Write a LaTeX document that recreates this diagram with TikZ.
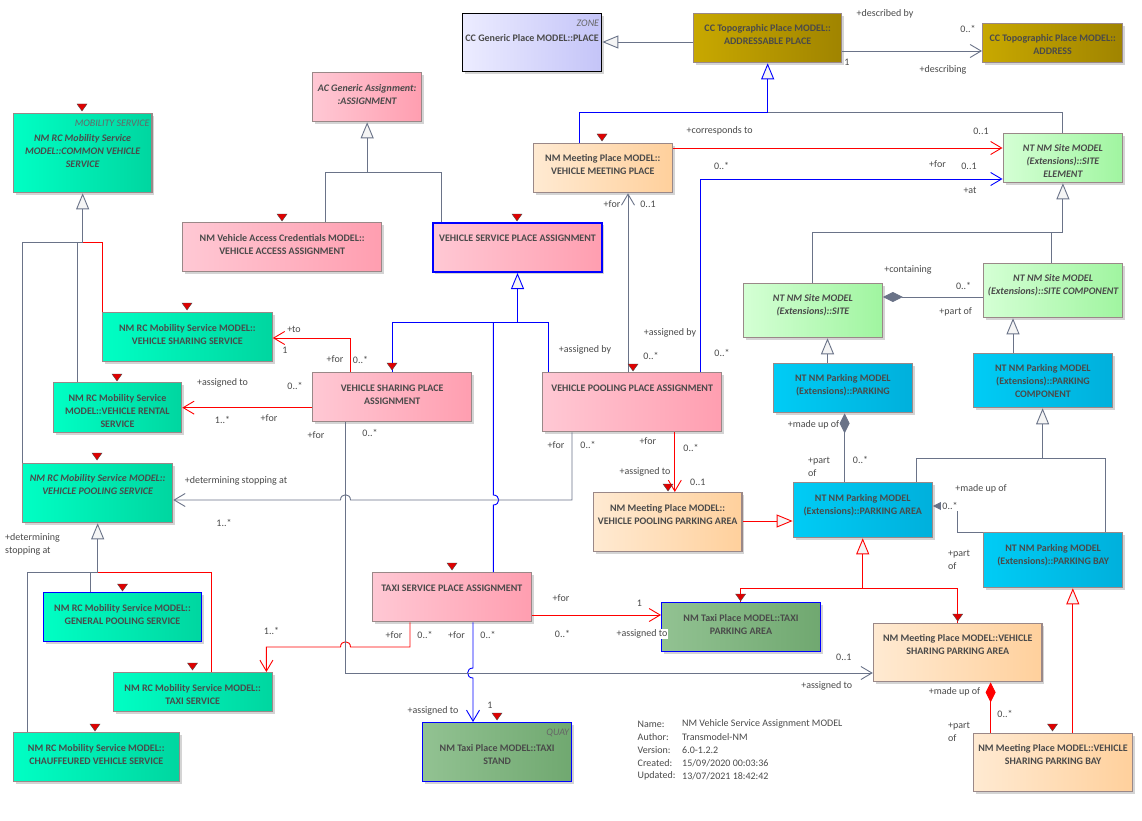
\documentclass[tikz,border=0pt]{standalone}
\usepackage{fontspec}
\setmainfont{Carlito}
\usetikzlibrary{arrows.meta,calc}
\definecolor{tealL}{HTML}{00FFC4}
\definecolor{tealR}{HTML}{00D6A0}
\definecolor{pinkL}{HTML}{FFC8D4}
\definecolor{pinkR}{HTML}{FF9EB0}
\definecolor{peachL}{HTML}{FFEAD2}
\definecolor{peachR}{HTML}{FFD09C}
\definecolor{lgreenL}{HTML}{D4FFD4}
\definecolor{lgreenR}{HTML}{A0F5A0}
\definecolor{cyanL}{HTML}{00CCF5}
\definecolor{cyanR}{HTML}{00B0DC}
\definecolor{oliveL}{HTML}{C8A800}
\definecolor{oliveR}{HTML}{A08400}
\definecolor{lavL}{HTML}{ECECFF}
\definecolor{lavR}{HTML}{C4C4F8}
\definecolor{tgreenL}{HTML}{92C292}
\definecolor{tgreenR}{HTML}{70A870}
\definecolor{bordc}{HTML}{9A8888}
\definecolor{linec}{HTML}{6A7388}
\definecolor{txtc}{HTML}{4A4A4A}
\definecolor{shadc}{HTML}{D4D4D4}
\definecolor{stereoc}{HTML}{E00000}
\tikzset{
  box/.style={draw=bordc, line width=1.3pt, inner sep=0pt, anchor=north west},
  teal/.style={box, left color=tealL, right color=tealR},
  pink/.style={box, left color=pinkL, right color=pinkR},
  peach/.style={box, left color=peachL, right color=peachR},
  lgreen/.style={box, left color=lgreenL, right color=lgreenR},
  cyanbox/.style={box, left color=cyanL, right color=cyanR},
  olive/.style={box, left color=oliveL, right color=oliveR},
  lav/.style={box, left color=lavL, right color=lavR, draw=black},
  tgreen/.style={box, left color=tgreenL, right color=tgreenR, draw=blue},
  btext/.style={text=txtc, align=center, inner sep=0pt, anchor=north},
  sttext/.style={font=\fontsize{10}{12}\selectfont\itshape, text=black!60, inner sep=0pt, anchor=north east},
  lbl/.style={font=\fontsize{10}{13}\selectfont, text=txtc, inner sep=0pt},
  lbll/.style={lbl, align=left, anchor=west},
  gline/.style={draw=linec, line width=0.9pt},
  rline/.style={draw=red, line width=0.9pt},
  bline/.style={draw=blue, line width=0.9pt},
  gen/.style={-{Triangle[length=16pt,width=13pt,fill=gray!8]}},
  assoc/.style={-{Straight Barb[length=11pt,width=13pt]}},
  comp/.style={{Diamond[length=20pt,width=10pt]}-},
}
\newcommand{\umlbox}[9]{%
  \fill[shadc] (#3+3,#4+3) rectangle (#5+3,#6+3);
  \node[#2, minimum width=#5pt-#3pt, minimum height=#6pt-#4pt] (#1) at (#3,#4) {};
  \node[btext, font=\fontsize{10}{13}\selectfont\bfseries#9] (#1-t) at ($(#1.north)+(0,#7-5.3)$) {\rule{0pt}{8.5pt}#8};
}
\newcommand{\stereo}[2]{\filldraw[fill=stereoc, draw=black!70, line width=0.4pt] (#1-5,#2-3) -- (#1+5,#2-3) -- (#1,#2+4) -- cycle;}
\begin{document}
\begin{tikzpicture}[x=1pt,y=-1pt]
\useasboundingbox (0,0) rectangle (1142,821);
\fill[white] (0,0) rectangle (1142,821);
% ---------- boxes ----------
\umlbox{place}{lav}{462}{13}{601}{71}{25}{CC Generic Place MODEL::PLACE}{}
\node[sttext] (place-s) at ($(place.north east)+(-3,6.5)$) {ZONE};
\umlbox{ap}{olive}{693}{13}{841}{62}{15}{CC Topographic Place MODEL::\\ADDRESSABLE PLACE}{}
\umlbox{addr}{olive}{982}{23}{1122}{62}{15}{CC Topographic Place MODEL::\\ADDRESS}{}
\umlbox{asg}{pink}{312}{72}{421}{121}{16}{AC Generic Assignment:\\:ASSIGNMENT}{\itshape}
\umlbox{common}{teal}{12.6}{113}{151.4}{192}{25}{NM RC Mobility Service\\MODEL::COMMON VEHICLE\\SERVICE}{\itshape}
\node[sttext] (common-s) at ($(common.north east)+(-3,6.5)$) {MOBILITY SERVICE};
\umlbox{vaa}{pink}{182}{222}{381}{271}{16}{NM Vehicle Access Credentials MODEL::\\VEHICLE ACCESS ASSIGNMENT}{}
\umlbox{vspa}{pink,draw=blue,line width=2pt}{432}{222}{601}{271}{16}{VEHICLE SERVICE PLACE ASSIGNMENT}{}
\umlbox{vmp}{peach}{532.7}{143}{671.6}{192}{15}{NM Meeting Place MODEL::\\VEHICLE MEETING PLACE}{}
\umlbox{se}{lgreen}{1002.5}{133}{1122}{182}{15}{NT NM Site MODEL\\(Extensions)::SITE\\ELEMENT}{\itshape}
\umlbox{sc}{lgreen}{983}{263}{1122}{317}{15}{NT NM Site MODEL\\(Extensions)::SITE COMPONENT}{\itshape}
\umlbox{site}{lgreen}{743}{283}{881.5}{337}{15}{NT NM Site MODEL\\(Extensions)::SITE}{\itshape}
\umlbox{parking}{cyanbox}{772.8}{363}{911.7}{412}{15}{NT NM Parking MODEL\\(Extensions)::PARKING}{}
\umlbox{pc}{cyanbox}{972.8}{353}{1111.7}{407}{15}{NT NM Parking MODEL\\(Extensions)::PARKING\\COMPONENT}{}
\umlbox{pa}{cyanbox}{792.6}{482}{931.5}{537}{16}{NT NM Parking MODEL\\(Extensions)::PARKING AREA}{}
\umlbox{pb}{cyanbox}{983}{532}{1122}{587}{16}{NT NM Parking MODEL\\(Extensions)::PARKING BAY}{}
\umlbox{vss}{teal}{102}{312}{271.5}{361}{16}{NM RC Mobility Service MODEL::\\VEHICLE SHARING SERVICE}{}
\umlbox{vrs}{teal}{52.6}{382}{181}{432}{16}{NM RC Mobility Service\\MODEL::VEHICLE RENTAL\\SERVICE}{}
\umlbox{vsha}{pink}{312}{372}{471}{421}{16}{VEHICLE SHARING PLACE\\ASSIGNMENT}{}
\umlbox{vppa}{pink}{542}{372}{721}{431}{16}{VEHICLE POOLING PLACE ASSIGNMENT}{}
\umlbox{vps}{teal}{22}{463}{172}{522}{15}{NM RC Mobility Service MODEL::\\VEHICLE POOLING SERVICE}{\itshape}
\umlbox{vpa}{peach}{592.6}{492}{741.4}{551}{16}{NM Meeting Place MODEL::\\VEHICLE POOLING PARKING AREA}{}
\umlbox{tspa}{pink}{371.5}{572}{530.8}{621}{16}{TAXI SERVICE PLACE ASSIGNMENT}{}
\umlbox{tpa}{tgreen}{661}{602}{819.6}{651}{16}{NM Taxi Place MODEL::TAXI\\PARKING AREA}{}
\umlbox{vsparea}{peach}{872.8}{623}{1041.4}{681}{15}{NM Meeting Place MODEL::VEHICLE\\SHARING PARKING AREA}{}
\umlbox{vspb}{peach}{972.8}{733}{1132}{791}{15}{NM Meeting Place MODEL::VEHICLE\\SHARING PARKING BAY}{}
\umlbox{gps}{teal,draw=blue}{42.7}{592}{201}{641}{16}{NM RC Mobility Service MODEL::\\GENERAL POOLING SERVICE}{}
\umlbox{ts}{teal}{112.6}{672}{271.5}{711}{16}{NM RC Mobility Service MODEL::\\TAXI SERVICE}{}
\umlbox{chauf}{teal}{12.6}{732}{178.6}{781}{16}{NM RC Mobility Service MODEL::\\CHAUFFEURED VEHICLE SERVICE}{}
\umlbox{stand}{tgreen}{422}{722}{571}{781}{26}{NM Taxi Place MODEL::TAXI\\STAND}{}
\node[sttext] (stand-s) at ($(stand.north east)+(-3,6.5)$) {QUAY};
% ---------- connectors ----------
\draw[gline, gen] (ap.west |- 0,42) -- (place.east |- 0,42);
\draw[gline, assoc] (ap.east |- 0,51) -- (addr.west |- 0,51);
\draw[gline] (se.north) |- (ap.south |- 0,112);
\draw[bline, gen] (579,0 |- vmp.north) |- (ap.south |- 0,112) -- (ap.south);
\draw[rline, assoc] (vmp.east |- 0,148) -- (se.west |- 0,148);
\draw[bline, assoc] (700.6,0 |- vppa.north) |- (se.west |- 0,179);
\draw[gline, assoc] (628,0 |- vppa.north) -- (628,0 |- vmp.south);
\draw[gline] (325,0 |- vaa.north) |- (asg.south |- 0,172);
\draw[gline, gen] (441,0 |- vspa.north) |- (asg.south |- 0,172) -- (asg.south);
\draw[gline] (77.5,0 |- vrs.north) -- (77.5,242);
\draw[rline] (102,0 |- vss.north) |- (common.south |- 0,242);
\draw[gline, gen] (22,0 |- vps.north) |- (common.south |- 0,242) -- (common.south);
\draw[gline] (90.5,0 |- gps.north) -- (90.5,572);
\draw[rline] (211.5,0 |- ts.north) |- (vps.south |- 0,572);
\draw[gline, gen] (27,0 |- chauf.north) |- (vps.south |- 0,572) -- (vps.south);
\draw[bline] (548.6,0 |- vppa.north) |- (vspa.south |- 0,322);
\draw[bline] (493.3,0 |- tspa.north) -- (493.3,505) .. controls (500.5,505) and (500.5,495) .. (493.3,495) -- (493.3,322);
\draw[bline, gen] (392,0 |- vsha.north) |- (vspa.south |- 0,322) -- (vspa.south);
\draw[rline, assoc] (350,0 |- vsha.north) |- (vss.east |- 0,338);
\draw[rline, assoc] (vsha.west |- vrs.east) -- (vrs.east);
\draw[gline, assoc] (572,0 |- vppa.south) -- (572,500) -- (350.5,500) .. controls (350.5,493) and (340.5,493) .. (340.5,500) -- (vps.east |- 0,500);
\draw[rline, assoc] (674.8,0 |- vppa.south) -- (674.8,0 |- vpa.north);
\draw[rline, gen] (vpa.east |- 0,521) -- (pa.west |- 0,521);
\draw[gline, comp] (site.east |- 0,297) -- (sc.west |- 0,297);
\draw[gline] (1051.7,0 |- sc.north) -- (1051.7,232);
\draw[gline, gen] (site.north) |- (se.south |- 0,232) -- (se.south);
\draw[gline, gen] (827.5,0 |- parking.north) -- (827.5,0 |- site.south);
\draw[gline, gen] (1013,0 |- pc.north) -- (1013,0 |- sc.south);
\draw[gline, comp] (844.6,0 |- parking.south) -- (844.6,0 |- pa.north);
\draw[gline] (1105.7,0 |- pb.north) |- (1042.6,458);
\draw[gline, gen] (916.4,0 |- pa.north) |- (1042.6,458) -- (1042.6,0 |- pc.south);
\draw[gline, comp] (pa.east |- 0,506) -- (957.7,506) -- (957.7,532) -- (pb.north west);
\draw[rline] (957.7,0 |- vsparea.north) |- (pa.south |- 0,588);
\draw[rline, gen] (740,0 |- tpa.north) |- (pa.south |- 0,588) -- (pa.south);
\draw[rline, gen] (1072.8,0 |- vspb.north) -- (1072.8,0 |- pb.south);
\draw[rline, comp] (990.6,0 |- vsparea.south) -- (990.6,0 |- vspb.north);
\draw[rline, assoc] (tspa.east |- 0,615) -- (tpa.west |- 0,615);
\draw[rline, assoc] (410,0 |- tspa.south) -- (410,647) -- (350.5,647) .. controls (350.5,640) and (340.5,640) .. (340.5,647) -- (266.4,647) -- (266.4,0 |- ts.north);
\draw[bline, assoc] (473,0 |- tspa.south) -- (473,668) .. controls (465.8,668) and (465.8,678) .. (473,678) -- (473,0 |- stand.north);
\draw[gline, assoc] (345.5,0 |- vsha.south) -- (345.5,673) -- (vsparea.west |- 0,673);
% ---------- stereotype markers ----------
\stereo{82}{107}\stereo{282}{217}\stereo{517}{217}\stereo{602}{137}
\stereo{187}{306}\stereo{117}{377}\stereo{392}{366}\stereo{633}{367}
\stereo{97}{456}\stereo{668}{487}\stereo{122.5}{587}\stereo{192.5}{666}
\stereo{95}{727}\stereo{452}{566}\stereo{497}{716}\stereo{740.6}{597}
\stereo{957.7}{617}\stereo{1052.5}{727}
% ---------- labels ----------
\node[lbl] (l1) at (885,14) {+described by};
\node[lbl] (l2) at (968,29) {0..*};
\node[lbl] (l3) at (847,62) {1};
\node[lbl] (l4) at (943,70) {+describing};
\node[lbl] (l5) at (719.6,131) {+corresponds to};
\node[lbl] (l6) at (981,131) {0..1};
\node[lbl] (l7) at (721.6,166) {0..*};
\node[lbl] (l8) at (937.5,164) {+for};
\node[lbl] (l9) at (969,166) {0..1};
\node[lbl] (l10) at (970,190) {+at};
\node[lbl] (l11) at (612,204) {+for};
\node[lbl] (l12) at (648,204) {0..1};
\node[lbl] (l13) at (908,270) {+containing};
\node[lbl] (l14) at (963.6,286) {0..*};
\node[lbl] (l15) at (955.7,312) {+part of};
\node[lbl] (l16) at (294,329) {+to};
\node[lbl] (l17) at (285,350) {1};
\node[lbl] (l18) at (335,359) {+for};
\node[lbl] (l19) at (360.5,360) {0..*};
\node[lbl] (l20) at (585,350) {+assigned by};
\node[lbl] (l21) at (670,333) {+assigned by};
\node[lbl] (l22) at (651,356) {0..*};
\node[lbl] (l23) at (722,353) {0..*};
\node[lbl] (l24) at (222.5,383) {+assigned to};
\node[lbl] (l25) at (295,386) {0..*};
\node[lbl] (l26) at (222.5,420) {1..*};
\node[lbl] (l27) at (269,418) {+for};
\node[lbl] (l28) at (316,435) {+for};
\node[lbl] (l29) at (370,433) {0..*};
\node[lbl] (l30) at (236,481) {+determining stopping at};
\node[lbl] (l31) at (224,523) {1..*};
\node[lbl] (l32) at (556,445) {+for};
\node[lbl] (l33) at (588,445) {0..*};
\node[lbl] (l34) at (647.8,441) {+for};
\node[lbl] (l35) at (691,448) {0..*};
\node[lbl] (l36) at (645,472) {+assigned to};
\node[lbl] (l37) at (697.8,482) {0..1};
\node[lbl] (l38) at (813.6,425) {+made up of};
\node[lbll] (l39) at (808,466.5) {+part\\of};
\node[lbl] (l40) at (860.5,460) {0..*};
\node[lbl] (l41) at (981,489) {+made up of};
\node[lbl, fill=white, inner sep=1pt] (l42) at (950,506) {0..*};
\node[lbll] (l43) at (948,559.5) {+part\\of};
\node[lbll] (l44) at (5,544.5) {+determining\\stopping at};
\node[lbl] (l45) at (271.5,631) {1..*};
\node[lbl] (l46) at (394,635) {+for};
\node[lbl] (l47) at (425,635) {0..*};
\node[lbl] (l48) at (456.5,635) {+for};
\node[lbl] (l49) at (488,635) {0..*};
\node[lbl] (l50) at (433,711) {+assigned to};
\node[lbl] (l51) at (490,705) {1};
\node[lbl] (l52) at (561,598) {+for};
\node[lbl] (l53) at (639.4,603) {1};
\node[lbl] (l54) at (562.5,634) {0..*};
\node[lbl, fill=white, inner sep=1pt] (l55) at (642,634) {+assigned to};
\node[lbl] (l56) at (843.8,657) {0..1};
\node[lbl] (l57) at (826.7,686) {+assigned to};
\node[lbl] (l58) at (954.5,692) {+made up of};
\node[lbl] (l59) at (1005,714) {0..*};
\node[lbll] (l60) at (948,731.5) {+part\\of};
% ---------- info ----------
\node[lbll] (i1) at (637.5,724) {Name:};
\node[lbll] (i2) at (637.5,737) {Author:};
\node[lbll] (i3) at (637.5,750) {Version:};
\node[lbll] (i4) at (637.5,763) {Created:};
\node[lbll] (i5) at (637.5,776) {Updated:};
\node[lbll] (v1) at (682,724) {NM Vehicle Service Assignment MODEL};
\node[lbll] (v2) at (682,737) {Transmodel-NM};
\node[lbll] (v3) at (682,750) {6.0-1.2.2};
\node[lbll] (v4) at (682,763) {15/09/2020 00:03:36};
\node[lbll] (v5) at (682,776) {13/07/2021 18:42:42};
\end{tikzpicture}
\end{document}
